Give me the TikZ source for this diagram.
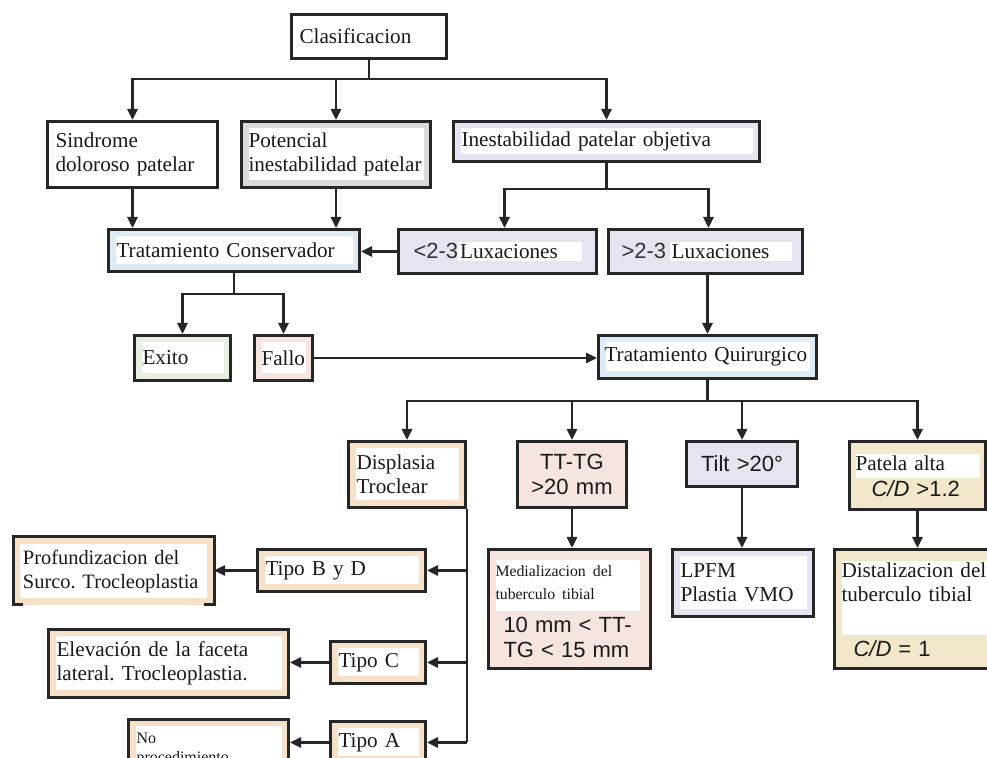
\documentclass[tikz,border=0pt]{standalone}
\usepackage{fontspec}
\setmainfont{Liberation Serif}
\setsansfont{Liberation Sans}
\usetikzlibrary{arrows.meta}

\definecolor{celeste}{RGB}{221,235,246}
\definecolor{lila}{RGB}{230,228,240}
\definecolor{gris}{RGB}{218,218,218}
\definecolor{verde}{RGB}{229,240,225}
\definecolor{rosa}{RGB}{246,228,222}
\definecolor{durazno}{RGB}{246,225,200}
\definecolor{amarillo}{RGB}{243,231,203}
\newcommand{\sfsz}{\sffamily\fontsize{11}{12.5}\selectfont}
\frenchspacing

\begin{document}
\begin{tikzpicture}[x=0.5pt, y=-0.5pt, font=\fontsize{10.6}{12}\selectfont,
    caja/.style={draw=black!85, line width=1.5pt, fill=#1, inner xsep=4pt, inner ysep=0pt,
        align=left, text=black!90, anchor=north west,
        path picture={\fill[white] ([shift={(3.5pt,-3.5pt)}]path picture bounding box.north west)
            rectangle ([shift={(-3.5pt,3.5pt)}]path picture bounding box.south east);}},
    plana/.style={draw=black!85, line width=1.5pt, fill=#1, inner xsep=4pt, inner ysep=0pt,
        align=left, text=black!90, anchor=north west},
    linea/.style={line width=1.3pt, draw=black!85},
    flecha/.style={linea, -{Triangle[length=5.5pt,width=5pt]}}]
    \useasboundingbox (0,0) rectangle (987,758);
    \clip (0,0) rectangle (987,758);

    % Top levels
    \node[caja=white, text width=69.5pt, minimum height=22pt] (clas) at (290,13) {Clasificacion};
    \node[caja=white, text width=77pt, minimum height=33pt] (sind) at (46,120) {Sindrome\\doloroso patelar};
    \node[caja=gris, inner xsep=3.5pt, text width=87.5pt, minimum height=33pt] (pot) at (240,120) {Potencial\\inestabilidad patelar};
    \node[caja=lila, text width=145pt, minimum height=20pt] (inest) at (452,120) {Inestabilidad patelar objetiva};
    \node[caja=celeste, text width=117.5pt, minimum height=21pt] (tcons) at (107,228) {Tratamiento Conservador};
    \node[plana=lila, text width=91pt, minimum height=22pt] (lmenos) at (397,228)
        {\hspace*{3.5pt}{\sfsz\color{black!80}<2-3}{\setlength{\fboxsep}{1pt}\colorbox{white}{\makebox[60pt][l]{Luxaciones}}}};
    \node[plana=lila, text width=89pt, minimum height=22pt] (lmas) at (607,228)
        {\hspace*{2.5pt}{\sfsz\color{black!80}>2-3}\,{\setlength{\fboxsep}{1pt}\colorbox{white}{\makebox[59pt][l]{Luxaciones}}}};
    \node[caja=verde, text width=40pt, minimum height=22.5pt] (exito) at (133,334) {Exito};
    \node[caja=rosa, inner xsep=3.5pt, text width=22pt, minimum height=22.5pt] (fallo) at (253,334) {Fallo};
    \node[caja=celeste, inner xsep=3pt, text width=103pt, minimum height=21.5pt] (tquir) at (597,334) {Tratamiento Quirurgico};

    % Quirurgico branches
    \node[caja=durazno, text width=50.5pt, minimum height=33pt] (displ) at (347,440) {Displasia\\Troclear};
    \node[plana=rosa, font=\sfsz, align=center, text width=46.5pt, minimum height=33pt] (tttg) at (516,440) {TT-TG\\>20 mm};
    \node[plana=lila, font=\sfsz, align=center, text width=47.5pt, minimum height=22.5pt] (tilt) at (685,440) {Tilt >20°};
    \node[plana=amarillo, inner xsep=3pt, text width=62pt, minimum height=34pt] (patela) at (848,440)
        {{\setlength{\fboxsep}{0pt}\colorbox{white}{\parbox{62pt}{\strut Patela alta}}}\par
         {\sfsz\hspace*{8pt}\textit{C/D} >1.2\par}};
    \node[plana=rosa, inner xsep=3.5pt, text width=74pt, minimum height=59.5pt] (medial) at (487,548)
        {{\setlength{\fboxsep}{0pt}\colorbox{white}{\parbox[t][25.5pt][t]{72pt}{\fontsize{7.9}{11.5}\selectfont\strut Medializacion del\\tuberculo tibial}}}\par\vspace{2pt}
         {\sfsz\hspace*{4pt}10 mm < TT-\\\hspace*{4pt}TG < 15 mm\par}};
    \node[caja=lila, text width=62.5pt, minimum height=33.5pt] (lpfm) at (671,548) {LPFM\\Plastia VMO};
    \node[plana=amarillo, inner xsep=3.5pt, text width=76pt, minimum height=59.5pt] (distal) at (833,548)
        {{\setlength{\fboxsep}{0pt}\colorbox{white}{\parbox[t][37pt][t]{76pt}{\strut Distalizacion del\\tuberculo tibial}}}\par\vspace{2pt}
         {\sfsz\hspace*{6pt}\textit{C/D} = 1\par}};

    % Displasia types
    \node[caja=durazno, text width=76pt, minimum height=21pt] (tipobd) at (256,548) {Tipo B y D};
    \node[caja=durazno, draw=none, outer sep=0pt, font=\fontsize{10.2}{12}\selectfont, inner xsep=5pt, text width=90.5pt, minimum height=34pt] (prof) at (13,537)
        {Profundizacion del\\Surco. Trocleoplastia};
    \node[caja=durazno, text width=39.5pt, minimum height=21pt] (tipoc) at (329,640) {Tipo C};
    \node[caja=durazno, text width=112pt, minimum height=34pt] (elev) at (47,628) {Elevación de la faceta\\lateral. Trocleoplastia.};
    \node[caja=durazno, text width=39.5pt, minimum height=21pt] (tipoa) at (329,720) {Tipo A};
    \node[caja=durazno, font=\fontsize{8}{9.5}\selectfont, text width=72pt, minimum height=30pt] (nop) at (127,718) {No\\procedimiento};
    \draw[line width=1.5pt, black!85] ([xshift=5pt]prof.south west) -- (prof.south west) -- (prof.north west)
        -- (prof.north east) -- (prof.south east) -- ([xshift=-5pt]prof.south east);

    % Connectors
    \draw[linea] (clas.south) -- ++(0,19) coordinate (c1);
    \draw[flecha] (c1) -| (sind.north);
    \draw[flecha] (c1) -| (pot.north);
    \draw[flecha] (c1) -| (inest.north);
    \draw[linea] (inest.south) -- ++(0,26) coordinate (c2);
    \draw[flecha] (c2) -| ([xshift=3.5pt]lmenos.north);
    \draw[flecha] (c2) -| ([xshift=1.5pt]lmas.north);
    \draw[flecha] (sind.south) -- (sind.south |- tcons.north);
    \draw[flecha] (pot.south) -- (pot.south |- tcons.north);
    \draw[flecha] (lmenos.west) -- (lmenos.west -| tcons.east);
    \draw[linea] (tcons.south) -- ++(0,21) coordinate (c3);
    \draw[flecha] (c3) -| (exito.north);
    \draw[flecha] (c3) -| (fallo.north);
    \draw[flecha] (fallo.east) -- (fallo.east -| tquir.west);
    \draw[flecha] (lmas.south -| tquir.north) -- (tquir.north);
    \draw[linea] (tquir.south) -- ++(0,21) coordinate (c4);
    \draw[flecha] (c4) -| (displ.north);
    \draw[flecha] (c4) -| (tttg.north);
    \draw[flecha] (c4) -| (tilt.north);
    \draw[flecha] (c4) -| (patela.north);
    \draw[flecha] (tttg.south) -- (tttg.south |- medial.north);
    \draw[flecha] (tilt.south) -- (tilt.south |- lpfm.north);
    \draw[flecha] (patela.south) -- (patela.south |- distal.north);
    \draw[linea] (displ.south east) -- (displ.south east |- tipoa.east);
    \draw[flecha] (displ.south east |- tipobd.east) -- (tipobd.east);
    \draw[flecha] (displ.south east |- tipoc.east) -- (tipoc.east);
    \draw[flecha] (displ.south east |- tipoa.east) -- (tipoa.east);
    \draw[flecha] (tipobd.west) -- (tipobd.west -| prof.east);
    \draw[flecha] (tipoc.west) -- (tipoc.west -| elev.east);
    \draw[flecha] (tipoa.west) -- (tipoa.west -| nop.east);
\end{tikzpicture}
\end{document}
